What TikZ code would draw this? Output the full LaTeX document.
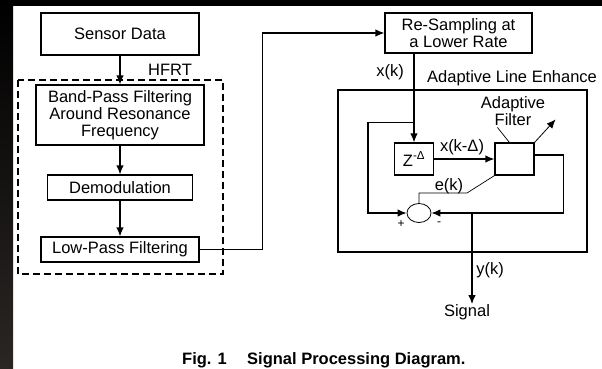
\documentclass[tikz,border=0pt]{standalone}
\usepackage{fontspec}
\setmainfont{Liberation Sans}
\usetikzlibrary{arrows.meta,shapes.geometric,calc}
\newcommand\mainsz{\fontsize{16.5}{17}\selectfont}
\newcommand\smsz{\fontsize{12}{13}\selectfont}
\newcommand\capsz{\fontsize{16.5}{18}\selectfont\bfseries}
\begin{document}
\begin{tikzpicture}[x=1pt,y=-1pt,
  box/.style={draw, line width=1.2pt, inner sep=0pt, align=center, font=\mainsz},
  arr/.style={-{Latex[length=9pt,width=7.5pt]}, line width=1.2pt},
  tarr/.style={-{Latex[length=9pt,width=7.5pt]}, line width=0.8pt},
  ln/.style={line width=1.2pt},
  tln/.style={line width=0.7pt},
  lbl/.style={inner sep=0pt, font=\mainsz, align=center},
  dashbox/.style={line width=1.8pt, dash pattern=on 7pt off 4pt}]
\useasboundingbox (0,0) rectangle (602,368);
\fill[white] (0,0) rectangle (602,368);
\fill[black] (0,0) rectangle (602,6);
\shade[top color=black, bottom color={rgb,255:red,42;green,38;blue,36}] (0,0) rectangle (13,368);

% left column
\node[box, minimum width=158pt, minimum height=42pt] (sensor) at (120,34) {Sensor Data};
\node[box, minimum width=168pt, minimum height=60pt] (bp) at (120,115) {Band-Pass Filtering\\Around Resonance\\Frequency};
\node[box, minimum width=145pt, minimum height=25pt] (demod) at (120,187.5) {Demodulation};
\node[box, minimum width=158pt, minimum height=25pt] (lpf) at (120,249.5) {Low-Pass Filtering};
\draw[dashbox] (18,80) rectangle (223,274);
\node[lbl] (hfrt) at (170,70) {HFRT};
\draw[arr] (sensor) -- (bp);
\draw[arr] (bp) -- (demod);
\draw[arr] (demod) -- (lpf);

% resampling
\node[box, minimum width=147pt, minimum height=40pt] (rs) at (458.5,33) {Re-Sampling at\\a Lower Rate};
\draw[arr] (lpf.east) -- ++(63,0) |- (rs.west);

% ALE
\draw[ln] (338,90) rectangle (587,252);
\node[lbl, anchor=west] (alelbl) at (427,78) {Adaptive Line Enhance};
\node[lbl] (xk) at (390,72) {x(k)};
\node[box, minimum width=39pt, minimum height=32pt] (z) at (414,159) {Z\textsuperscript{-Δ}};
\node[box, minimum width=39pt, minimum height=32pt] (af) at (514.5,159) {};
\node[draw, ellipse, minimum width=24pt, minimum height=19pt, inner sep=0pt, line width=0.8pt] (sum) at (419,213) {};
\draw[arr] (rs.south -| z.north) -- (z.north);
\path (z.north) ++(0,-20) coordinate (br);
\draw[arr] (br) -- ++(-46,0) |- (sum.west);
\draw[arr] (z) -- (af);
\node[lbl] (xkd) at (462,147) {x(k-Δ)};
\node[lbl] (aflbl) at (513,111) {Adaptive\\Filter};
\draw[tln] ($(af.north west)+(15,0)$) -- ++(-12,-15);
\draw[tarr] (af.north east) -- ++(21,-23);
\draw[arr] ([yshift=4pt]af.east) -- ++(29,0) |- (sum.east);
\coordinate (ek) at (467,193);
\draw[tln] (sum.north) |- (ek) -- (af.south west);
\node[lbl] (ekl) at (449,186) {e(k)};
\node[inner sep=0pt, font=\smsz] (plus) at (401,224) {+};
\node[inner sep=0pt, font=\smsz] (minus) at (439,224) {-};

% output
\coordinate (yj) at (472,213);
\node[lbl] (sig) at (467,312) {Signal};
\draw[arr] (yj) -- (yj |- sig.north);
\node[lbl] (yk) at (490,270) {y(k)};

% caption
\node[anchor=west, inner sep=0pt, font=\capsz] (fig) at (182,360) {Fig. 1};
\node[anchor=west, inner sep=0pt, font=\capsz] (cap) at (247,360) {Signal Processing Diagram.};
\end{tikzpicture}
\end{document}
